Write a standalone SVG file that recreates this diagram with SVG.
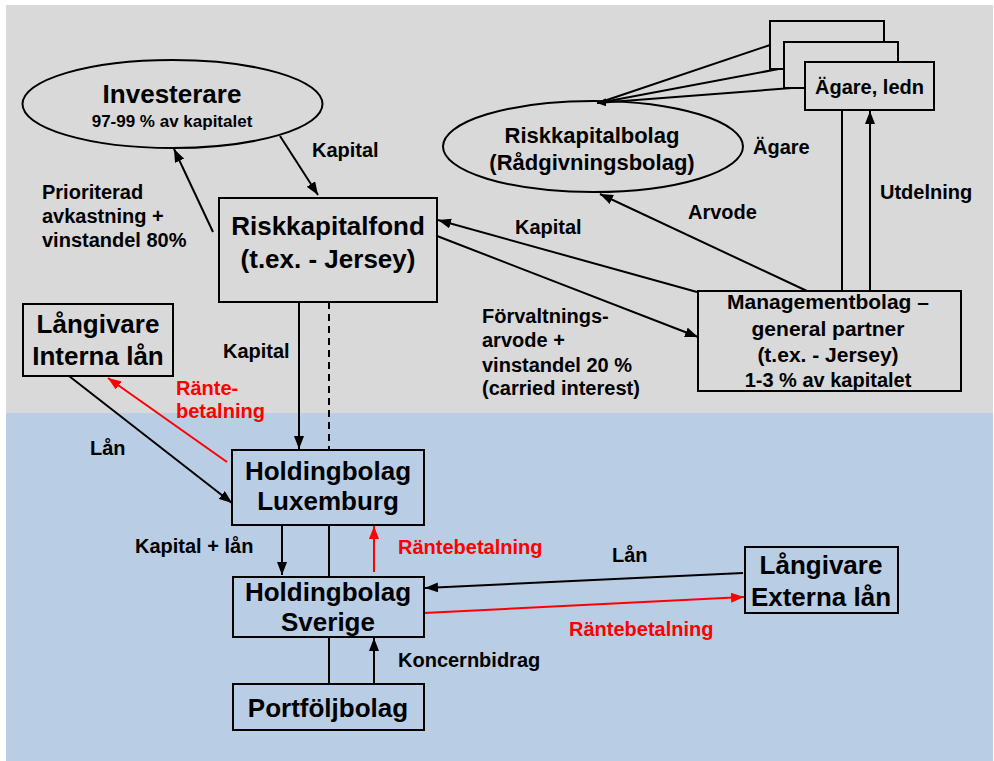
<svg xmlns="http://www.w3.org/2000/svg" width="994" height="761" viewBox="0 0 994 761">
<style>
text{font-family:"Liberation Sans",Arial,sans-serif;font-weight:bold;fill:#000}
.big{font-size:26px;text-anchor:middle}
.mid{font-size:21px;text-anchor:middle}
.rkb{font-size:22px;text-anchor:middle}
.lbl{font-size:20px}
.red{fill:#ff0000}
.box{fill:none;stroke:#000;stroke-width:2}
.ln{fill:none;stroke:#000;stroke-width:2}
.rl{fill:none;stroke:#ff0000;stroke-width:2}
</style>
<defs>
<marker id="ah" markerUnits="userSpaceOnUse" markerWidth="14" markerHeight="10" refX="13" refY="5" orient="auto"><path d="M0,0 L13,5 L0,10 z" fill="#000"/></marker>
<marker id="ahr" markerUnits="userSpaceOnUse" markerWidth="14" markerHeight="10" refX="13" refY="5" orient="auto"><path d="M0,0 L13,5 L0,10 z" fill="#ff0000"/></marker>
<marker id="ahs" markerUnits="userSpaceOnUse" markerWidth="10" markerHeight="8" refX="9" refY="4" orient="auto"><path d="M0,0 L9,4 L0,8 z" fill="#000"/></marker>
</defs>
<rect x="6" y="5" width="987" height="408" fill="#d9d9d9"/>
<rect x="6" y="413" width="987" height="348" fill="#b9cde5"/>

<g id="connectors">
<line class="ln" x1="280" y1="136" x2="318" y2="195" marker-end="url(#ah)"/>
<line class="ln" x1="213" y1="232" x2="174" y2="149" marker-end="url(#ah)"/>
<line class="ln" x1="697" y1="292" x2="438" y2="220" marker-end="url(#ah)"/>
<line class="ln" x1="437" y1="236" x2="698" y2="337" marker-end="url(#ah)"/>
<line class="ln" x1="807" y1="291" x2="600" y2="194" marker-end="url(#ah)"/>
<line class="ln" x1="770" y1="45" x2="598" y2="103"/>
<line class="ln" x1="784" y1="68" x2="598" y2="103"/>
<line class="ln" x1="805" y1="87" x2="597" y2="103" marker-end="url(#ahs)"/>
<line class="ln" x1="842" y1="110" x2="842" y2="291"/>
<line class="ln" x1="870" y1="291" x2="870" y2="111" marker-end="url(#ah)"/>
<line class="ln" x1="299" y1="302" x2="299" y2="449" marker-end="url(#ah)"/>
<line class="ln" x1="329" y1="302" x2="329" y2="450" stroke-dasharray="7,5"/>
<line class="ln" x1="69" y1="376" x2="232" y2="503" marker-end="url(#ah)"/>
<line class="rl" x1="227" y1="462" x2="108" y2="378" marker-end="url(#ahr)"/>
<line class="ln" x1="282" y1="525" x2="282" y2="575" marker-end="url(#ah)"/>
<line class="ln" x1="329" y1="525" x2="329" y2="577"/>
<line class="rl" x1="374" y1="572" x2="374" y2="526" marker-end="url(#ahr)"/>
<line class="ln" x1="743" y1="573" x2="425" y2="588" marker-end="url(#ah)"/>
<line class="rl" x1="424" y1="613" x2="744" y2="597" marker-end="url(#ahr)"/>
<line class="ln" x1="329" y1="637" x2="329" y2="684"/>
<line class="ln" x1="374" y1="684" x2="374" y2="638" marker-end="url(#ah)"/>
</g>

<g id="labels">
<text class="lbl" x="312" y="157">Kapital</text>
<text class="lbl" x="42" y="199">Prioriterad</text>
<text class="lbl" x="42" y="223">avkastning +</text>
<text class="lbl" x="42" y="247">vinstandel 80%</text>
<text class="lbl" x="753" y="154">Ägare</text>
<text class="lbl" x="880" y="199">Utdelning</text>
<text class="lbl" x="688" y="219">Arvode</text>
<text class="lbl" x="515" y="234">Kapital</text>
<text class="lbl" x="482" y="323">Förvaltnings-</text>
<text class="lbl" x="482" y="347">arvode +</text>
<text class="lbl" x="482" y="372">vinstandel 20 %</text>
<text class="lbl" x="482" y="395">(carried interest)</text>
<text class="lbl" x="223" y="358">Kapital</text>
<text class="lbl red" x="176" y="395">Ränte-</text>
<text class="lbl red" x="176" y="418">betalning</text>
<text class="lbl" x="90" y="455">Lån</text>
<text class="lbl" x="135" y="553">Kapital + lån</text>
<text class="lbl red" x="398" y="554">Räntebetalning</text>
<text class="lbl" x="612" y="562">Lån</text>
<text class="lbl red" x="569" y="636">Räntebetalning</text>
<text class="lbl" x="398" y="667">Koncernbidrag</text>
</g>

<g id="investerare">
<ellipse cx="172.5" cy="104" rx="150" ry="44" fill="none" stroke="#000" stroke-width="2"/>
<text class="big" x="172" y="103">Investerare</text>
<text x="172" y="127" font-size="17" text-anchor="middle">97-99 % av kapitalet</text>
</g>

<g id="riskkapitalfond">
<rect class="box" x="219" y="198" width="218" height="104"/>
<text class="big" x="328" y="235">Riskkapitalfond</text>
<text class="big" x="328" y="268">(t.ex. - Jersey)</text>
</g>

<g id="riskkapitalbolag">
<ellipse cx="593" cy="146.5" rx="150" ry="45.5" fill="none" stroke="#000" stroke-width="2"/>
<text class="rkb" x="592" y="143">Riskkapitalbolag</text>
<text class="rkb" x="592" y="170">(Rådgivningsbolag)</text>
</g>

<g id="agare">
<rect x="770" y="21" width="114" height="48" fill="#d9d9d9" stroke="#000" stroke-width="2"/>
<rect x="784" y="42" width="114" height="46" fill="#d9d9d9" stroke="#000" stroke-width="2"/>
<rect x="805" y="62" width="129" height="48" fill="#d9d9d9" stroke="#000" stroke-width="2"/>
<text class="lbl" x="869.5" y="94" text-anchor="middle">Ägare, ledn</text>
</g>

<g id="managementbolag">
<rect class="box" x="698" y="291" width="263" height="100"/>
<text class="mid" x="828" y="309">Managementbolag –</text>
<text class="mid" x="828" y="336">general partner</text>
<text class="mid" x="828" y="362">(t.ex. - Jersey)</text>
<text class="lbl" x="828" y="387" text-anchor="middle">1-3 % av kapitalet</text>
</g>

<g id="langivare-interna">
<rect class="box" x="23" y="304" width="150" height="72"/>
<text class="big" x="98" y="333">Långivare</text>
<text class="big" x="98" y="365">Interna lån</text>
</g>

<g id="holding-lux">
<rect class="box" x="232" y="450" width="192" height="75"/>
<text class="big" x="328" y="480">Holdingbolag</text>
<text class="big" x="328" y="510">Luxemburg</text>
</g>

<g id="holding-sverige">
<rect class="box" x="233" y="577" width="191" height="60"/>
<text class="big" x="328" y="601">Holdingbolag</text>
<text class="big" x="328" y="631">Sverige</text>
</g>

<g id="langivare-externa">
<rect class="box" x="745" y="547" width="153" height="66"/>
<text class="big" x="821" y="574">Långivare</text>
<text class="big" x="821" y="606">Externa lån</text>
</g>

<g id="portfoljbolag">
<rect class="box" x="233" y="684" width="191" height="46"/>
<text class="big" x="328" y="717">Portföljbolag</text>
</g>
</svg>
